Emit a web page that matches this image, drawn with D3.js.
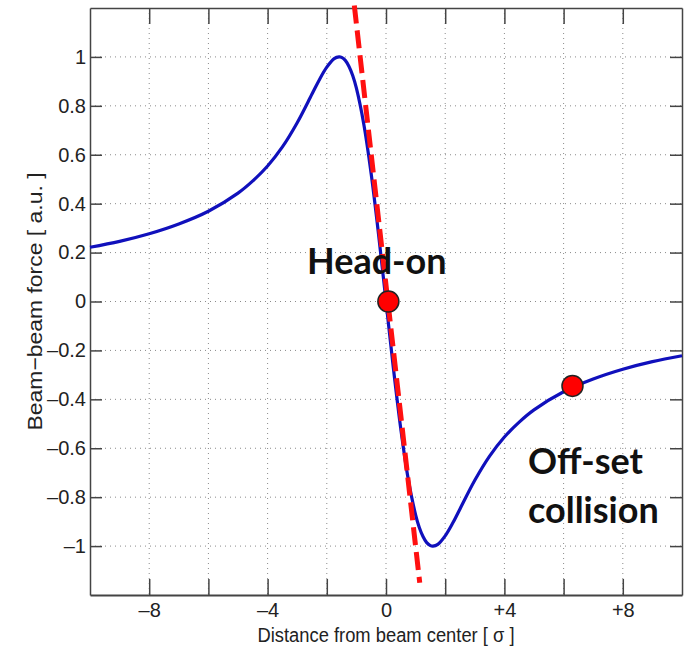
<!DOCTYPE html>
<html>
<head>
<meta charset="utf-8">
<script src="https://cdn.jsdelivr.net/npm/d3@7/dist/d3.min.js"></script>
<style>
  body { margin: 0; background: #fff; }
  svg { display: block; }
</style>
</head>
<body>
<svg id="chart" width="689" height="652"></svg>
<script>
// curve (distance in sigma, normalised force)
var xs = [-10, -9, -8, -7, -6, -5, -4.5, -4, -3.5, -3, -2.5, -2.25, -2, -1.75, -1.585, -1.5, -1.375, -1.25, -1.125, -1, -0.75, -0.5, -0.25,
          0, 0.25, 0.5, 0.75, 1, 1.125, 1.25, 1.375, 1.5, 1.585, 1.75, 2, 2.25, 2.5, 3, 3.5, 4, 4.5, 5, 6, 7, 8, 9, 10];
var force = [0.222, 0.246, 0.277, 0.317, 0.369, 0.443, 0.493, 0.554, 0.632, 0.731, 0.848, 0.907, 0.958, 0.993, 1.0, 0.998, 0.986, 0.961, 0.924, 0.872, 0.725, 0.521, 0.273,
             0, -0.273, -0.521, -0.725, -0.872, -0.924, -0.961, -0.986, -0.998, -1.0, -0.993, -0.958, -0.907, -0.848, -0.731, -0.632, -0.554, -0.493, -0.443, -0.369, -0.317, -0.277, -0.246, -0.222];

// red dashed slope line and the two markers
var slopeX = [-1.07, 1.14];
var slopeY = [1.21, -1.15];
var markX = [0.08, 6.3];
var markY = [0, -0.345];

var xTicks = [-8, -6, -4, -2, 0, 2, 4, 6, 8];
var xLabels = {"-8": "\u20138", "-4": "\u20134", "0": "0", "4": "+4", "8": "+8"};
var yTicks = [-1, -0.8, -0.6, -0.4, -0.2, 0, 0.2, 0.4, 0.6, 0.8, 1];

var svg = d3.select("#chart");
var pLeft = 90, pRight = 682, pTop = 8, pBottom = 595;

var x = d3.scaleLinear().domain([-10, 10]).range([pLeft, pRight]);
var y = d3.scaleLinear().domain([-1.2, 1.2]).range([pBottom, pTop]);

var axisColor = "#444";
var labelFont = "Liberation Sans, Arial, sans-serif";

// grid
var grid = svg.append("g");
grid.selectAll(".vg").data(xTicks).enter().append("line")
    .attr("x1", function(d) { return x(d); }).attr("x2", function(d) { return x(d); })
    .attr("y1", pTop).attr("y2", pBottom)
    .attr("stroke", "#8a8a8a").attr("stroke-width", 1).attr("stroke-dasharray", "1,4");
grid.selectAll(".hg").data(yTicks).enter().append("line")
    .attr("y1", function(d) { return y(d); }).attr("y2", function(d) { return y(d); })
    .attr("x1", pLeft).attr("x2", pRight)
    .attr("stroke", "#8a8a8a").attr("stroke-width", 1).attr("stroke-dasharray", "1,4");

// axes (ticks inside, mirrored on top and right)
var fmtY = function(d) { return d < 0 ? "\u2013" + d3.format("")(-d) : d3.format("")(d); };

svg.append("g").attr("transform", "translate(0," + pBottom + ")")
    .call(d3.axisBottom(x).tickValues(xTicks).tickSizeInner(-16).tickSizeOuter(0)
      .tickPadding(8).tickFormat(function(d) { return xLabels[d] || ""; }))
    .call(function(g) {
      g.select(".domain").attr("stroke", axisColor).attr("stroke-width", 2);
      g.selectAll(".tick line").attr("stroke", axisColor).attr("stroke-width", 1.5);
      g.selectAll("text").attr("fill", "#222").attr("font-size", 20).attr("font-family", labelFont);
    });
svg.append("g").attr("transform", "translate(0," + pTop + ")")
    .call(d3.axisTop(x).tickValues(xTicks).tickSizeInner(-16).tickSizeOuter(0).tickFormat(""))
    .call(function(g) {
      g.select(".domain").attr("stroke", axisColor).attr("stroke-width", 1.5);
      g.selectAll(".tick line").attr("stroke", axisColor).attr("stroke-width", 1.5);
    });
svg.append("g").attr("transform", "translate(" + pLeft + ",0)")
    .call(d3.axisLeft(y).tickValues(yTicks).tickSizeInner(-12).tickSizeOuter(0)
      .tickPadding(4).tickFormat(fmtY))
    .call(function(g) {
      g.select(".domain").attr("stroke", axisColor).attr("stroke-width", 1.5);
      g.selectAll(".tick line").attr("stroke", axisColor).attr("stroke-width", 1.5);
      g.selectAll("text").attr("fill", "#222").attr("font-size", 20).attr("font-family", labelFont);
    });
svg.append("g").attr("transform", "translate(" + pRight + ",0)")
    .call(d3.axisRight(y).tickValues(yTicks).tickSizeInner(-12).tickSizeOuter(0).tickFormat(""))
    .call(function(g) {
      g.select(".domain").attr("stroke", axisColor).attr("stroke-width", 1.5);
      g.selectAll(".tick line").attr("stroke", axisColor).attr("stroke-width", 1.5);
    });

// axis titles
svg.append("text")
    .attr("x", x(0)).attr("y", 642)
    .attr("text-anchor", "middle")
    .attr("font-family", labelFont).attr("font-size", 20).attr("fill", "#222")
    .attr("textLength", 257).attr("lengthAdjust", "spacingAndGlyphs")
    .text("Distance from beam center [ \u03c3 ]");
svg.append("text")
    .attr("transform", "translate(42," + y(0) + ") rotate(-90)")
    .attr("text-anchor", "middle")
    .attr("font-family", labelFont).attr("font-size", 21).attr("fill", "#222")
    .attr("textLength", 258).attr("lengthAdjust", "spacingAndGlyphs")
    .text("Beam\u2212beam force [ a.u. ]");

// blue curve
var pts = xs.map(function(d, i) { return [d, force[i]]; });
var line = d3.line()
    .x(function(d) { return x(d[0]); })
    .y(function(d) { return y(d[1]); })
    .curve(d3.curveCatmullRom.alpha(0.5));
svg.append("path")
    .attr("d", line(pts))
    .attr("fill", "none").attr("stroke", "#1010bc").attr("stroke-width", 3.2);

// red dashed line
svg.append("line")
    .attr("x1", x(slopeX[0])).attr("y1", y(slopeY[0]))
    .attr("x2", x(slopeX[1])).attr("y2", y(slopeY[1]))
    .attr("stroke", "#ff1010").attr("stroke-width", 5).attr("stroke-dasharray", "18,7");

// markers
svg.selectAll(".mark").data(markX).enter().append("circle")
    .attr("cx", function(d) { return x(d); })
    .attr("cy", function(d, i) { return y(markY[i]); })
    .attr("r", 10.5)
    .attr("fill", "#ff0000").attr("stroke", "#222").attr("stroke-width", 1.5);

// annotations
var ann = svg.append("g").attr("font-family", "Lato, Carlito, sans-serif").attr("font-weight", "bold")
    .attr("font-size", 36).attr("fill", "#111");
ann.append("text").attr("x", 307).attr("y", 274).text("Head-on");
ann.append("text").attr("x", 528).attr("y", 474).text("Off-set");
ann.append("text").attr("x", 528).attr("y", 523).text("collision");
</script>
</body>
</html>
